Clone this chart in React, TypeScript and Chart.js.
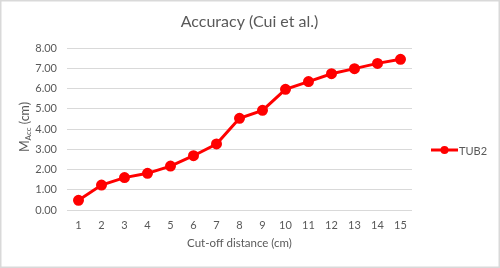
import React, { useEffect, useRef } from "react";
import { Chart, registerables } from "chart.js";

Chart.register(...registerables);

const categories = ["1", "2", "3", "4", "5", "6", "7", "8", "9", "10", "11", "12", "13", "14", "15"];
const tub2 = [0.48, 1.23, 1.6, 1.81, 2.17, 2.68, 3.26, 4.53, 4.92, 5.96, 6.34, 6.73, 6.98, 7.24, 7.44];
const seriesName = "TUB2";
const titleText = "Accuracy (Cui et al.)";
const xTitle = "Cut-off distance (cm)";

const FONT = "Lato, 'Open Sans', sans-serif";
const GREY = "#595959";
const RED = "#ff0000";

const decor = {
  id: "decor",
  afterDraw(chart: any) {
    const ctx = chart.ctx;
    const area = chart.chartArea;
    ctx.save();
    // border
    ctx.strokeStyle = "#d9d9d9";
    ctx.lineWidth = 1.5;
    ctx.strokeRect(0.75, 0.75, chart.width - 1.5, chart.height - 1.5);
    // title
    ctx.fillStyle = GREY;
    ctx.font = `16px ${FONT}`;
    ctx.textAlign = "center";
    ctx.textBaseline = "middle";
    ctx.fillText(titleText, (area.left + area.right) / 2 + 10, 22);
    // x title
    ctx.font = `11.5px ${FONT}`;
    ctx.fillText(xTitle, (area.left + area.right) / 2, 243);
    // y title with subscript
    ctx.translate(25, (area.top + area.bottom) / 2 - 2);
    ctx.rotate(-Math.PI / 2);
    const big = `12.5px ${FONT}`;
    const small = `8px ${FONT}`;
    ctx.font = big;
    const wM = ctx.measureText("M").width;
    const wRest = ctx.measureText(" (cm)").width;
    ctx.font = small;
    const wSub = ctx.measureText("Acc").width;
    let x = -(wM + wSub + wRest) / 2;
    ctx.textAlign = "left";
    ctx.font = big;
    ctx.fillText("M", x, 0);
    x += wM;
    ctx.font = small;
    ctx.fillText("Acc", x, 3);
    x += wSub;
    ctx.font = big;
    ctx.fillText(" (cm)", x, 0);
    ctx.restore();
    // legend
    ctx.save();
    const ly = 150;
    ctx.strokeStyle = RED;
    ctx.lineWidth = 3;
    ctx.beginPath();
    ctx.moveTo(431, ly);
    ctx.lineTo(458, ly);
    ctx.stroke();
    ctx.fillStyle = RED;
    ctx.beginPath();
    ctx.arc(444.5, ly, 4, 0, Math.PI * 2);
    ctx.fill();
    ctx.fillStyle = GREY;
    ctx.font = `11px ${FONT}`;
    ctx.textAlign = "left";
    ctx.textBaseline = "middle";
    ctx.fillText(seriesName, 459, ly + 1);
    ctx.restore();
  },
};

export default function App() {
  const ref = useRef<HTMLCanvasElement | null>(null);
  useEffect(() => {
    document.body.style.margin = "0";
    const chart = new Chart(ref.current as HTMLCanvasElement, {
      type: "line",
      data: {
        labels: categories,
        datasets: [
          {
            label: seriesName,
            data: tub2,
            borderColor: RED,
            backgroundColor: RED,
            borderWidth: 3,
            pointRadius: 4,
            pointBackgroundColor: RED,
            pointBorderColor: RED,
            tension: 0,
          },
        ],
      },
      options: {
        responsive: false,
        animation: false,
        layout: { padding: { top: 48, right: 88, left: 0, bottom: 0 } },
        plugins: { legend: { display: false }, title: { display: false }, tooltip: { enabled: false } },
        scales: {
          x: {
            offset: true,
            grid: { display: false, drawTicks: false },
            border: { display: false },
            ticks: { color: GREY, font: { family: FONT, size: 11 }, padding: 9, maxRotation: 0, autoSkip: false },
            afterFit: (s: any) => {
              s.height = 58;
            },
          },
          y: {
            min: 0,
            max: 8,
            grid: { color: "#d9d9d9", lineWidth: 1, drawTicks: false },
            border: { display: false },
            ticks: {
              stepSize: 1,
              color: GREY,
              font: { family: FONT, size: 11 },
              padding: 10,
              callback: (v: any) => Number(v).toFixed(2),
            },
            afterFit: (s: any) => {
              s.width = 67;
            },
          },
        },
      },
      plugins: [decor],
    });
    return () => chart.destroy();
  }, []);
  return (
    <div style={{ width: 500, height: 268 }}>
      <canvas ref={ref} width={500} height={268} style={{ display: "block" }} />
    </div>
  );
}
